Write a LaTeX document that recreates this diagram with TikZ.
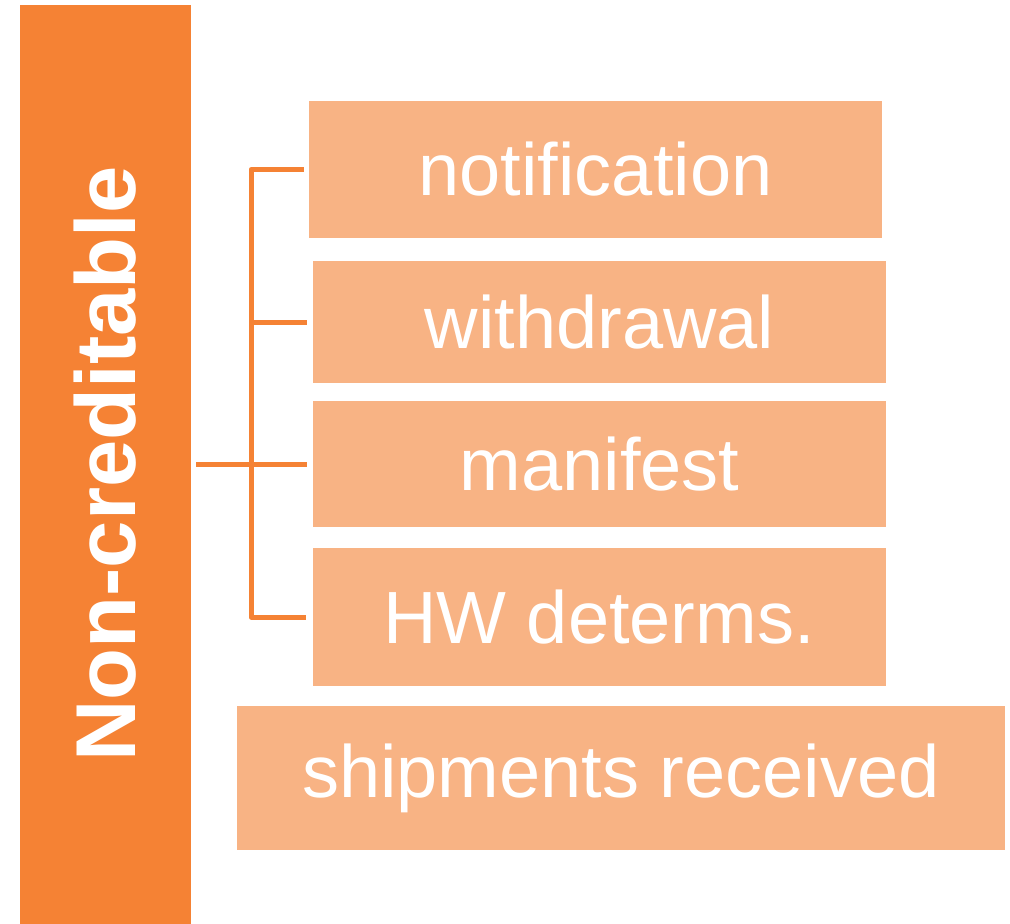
\documentclass[tikz,border=0pt]{standalone}
\usepackage{fontspec}
\setmainfont{Liberation Sans}
\definecolor{deeporange}{RGB}{245,130,52}
\definecolor{softorange}{RGB}{248,179,132}
\begin{document}
\begin{tikzpicture}[x=1pt,y=-1pt,
  bar/.style={fill=deeporange, draw=none, inner sep=0pt},
  item/.style={fill=softorange, draw=none, inner sep=0pt, text=white,
    font=\fontsize{74}{80}\selectfont},
  conn/.style={draw=deeporange, line width=5pt, line join=round}]
\useasboundingbox (0,0) rectangle (1010,924);
% category bar with its vertical title
\node[bar, minimum width=171pt, minimum height=924pt] (bar) at (105.5,467) {};
\node[rotate=90, text=white, font=\bfseries\fontsize{85}{90}\selectfont] (title) at (105.5,464) {Non-creditable};
% items
\node[item, minimum width=573pt, minimum height=137pt] (n1) at (595.5,169.5) {notification};
\node[item, minimum width=573pt, minimum height=122pt] (n2) at (599.5,322) {withdrawal};
\node[item, minimum width=573pt, minimum height=126pt] (n3) at (599.5,464) {manifest};
\node[item, minimum width=573pt, minimum height=138pt] (n4) at (599,617) {HW determs.};
\node[item, minimum width=768pt, minimum height=144pt] (n5) at (621,778) {shipments received};
% bracket connectors
\coordinate (spine) at (251,0);
\draw[conn] ([xshift=-5pt]n1.west) -- (spine |- n1.west) -- (spine |- n4.west) -- ([xshift=-6pt]n4.west);
\draw[conn] (spine |- n2.west) -- ([xshift=-6pt]n2.west);
\draw[conn] ([xshift=5pt]bar.east |- n3.west) -- ([xshift=-6pt]n3.west);
\end{tikzpicture}
\end{document}
